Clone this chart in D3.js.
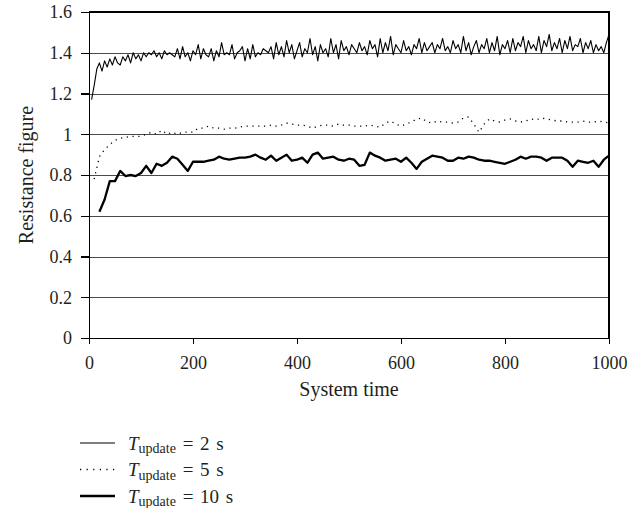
<!DOCTYPE html>
<html>
<head>
    <meta charset="utf-8">
    <script src="https://cdn.jsdelivr.net/npm/d3@7/dist/d3.min.js"></script>
    <style>
        body {
            margin: 0;
            background: #fff;
        }

        svg text {
            font-family: "Liberation Serif", "Times New Roman", serif;
            fill: #231f20;
        }

        .axis path,
        .axis line {
            stroke: #000;
            stroke-width: 1.2;
            shape-rendering: crispEdges;
        }

        .grid line {
            stroke: #4a4a4a;
            stroke-width: 1;
        }

        .series {
            fill: none;
            stroke: #000;
            stroke-linejoin: round;
        }
    </style>
</head>
<body>
<div id="chart"></div>
<script type="text/javascript">
    // T_update = 2 s, every 5 time units from 5 to 1000
    var t2Values = [
        1.17, 1.24, 1.32, 1.35, 1.31, 1.36, 1.33, 1.37, 1.34, 1.38,
        1.35, 1.34, 1.38, 1.36, 1.39, 1.35, 1.40, 1.37, 1.39, 1.36,
        1.40, 1.38, 1.40, 1.39, 1.41, 1.38, 1.40, 1.37, 1.41, 1.39,
        1.40, 1.39, 1.38, 1.42, 1.37, 1.43, 1.38, 1.40, 1.36, 1.41,
        1.39, 1.44, 1.37, 1.42, 1.39, 1.38, 1.42, 1.36, 1.41, 1.38,
        1.45, 1.39, 1.40, 1.39, 1.44, 1.37, 1.40, 1.41, 1.43, 1.36,
        1.42, 1.37, 1.44, 1.38, 1.40, 1.39, 1.42, 1.41, 1.40, 1.43,
        1.37, 1.45, 1.39, 1.43, 1.38, 1.46, 1.40, 1.44, 1.37, 1.41,
        1.45, 1.38, 1.42, 1.40, 1.47, 1.39, 1.43, 1.36, 1.44, 1.40,
        1.42, 1.38, 1.47, 1.40, 1.44, 1.37, 1.46, 1.41, 1.43, 1.39,
        1.44, 1.42, 1.40, 1.45, 1.41, 1.43, 1.39, 1.46, 1.42, 1.44,
        1.38, 1.47, 1.40, 1.45, 1.41, 1.48, 1.39, 1.44, 1.42, 1.40,
        1.46, 1.41, 1.43, 1.39, 1.44, 1.42, 1.47, 1.40, 1.45, 1.41,
        1.43, 1.45, 1.40, 1.44, 1.42, 1.47, 1.41, 1.43, 1.40, 1.46,
        1.42, 1.44, 1.40, 1.48, 1.41, 1.45, 1.39, 1.43, 1.46, 1.40,
        1.44, 1.42, 1.47, 1.40, 1.45, 1.41, 1.48, 1.39, 1.44, 1.42,
        1.46, 1.40, 1.47, 1.41, 1.45, 1.43, 1.48, 1.40, 1.46, 1.42,
        1.44, 1.41, 1.48, 1.40, 1.46, 1.43, 1.49, 1.41, 1.45, 1.42,
        1.47, 1.40, 1.46, 1.42, 1.48, 1.41, 1.44, 1.43, 1.47, 1.40,
        1.45, 1.42, 1.46, 1.40, 1.44, 1.41, 1.43, 1.40, 1.45, 1.49
    ];
    var t2Times = d3.range(5, 1001, 5);

    // T_update = 5 s, every 10 time units from 10 to 1000
    var t5Values = [
        0.78, 0.89, 0.925, 0.95, 0.97, 0.98, 0.985, 0.99, 0.99, 0.99,
        1.00, 1.01, 1.00, 1.02, 1.00, 1.01, 1.00, 1.01, 1.01, 1.01,
        1.03, 1.03, 1.04, 1.03, 1.03, 1.025, 1.03, 1.03, 1.035, 1.04,
        1.04, 1.04, 1.04, 1.04, 1.045, 1.04, 1.045, 1.055, 1.05, 1.045,
        1.045, 1.04, 1.03, 1.04, 1.045, 1.045, 1.04, 1.05, 1.045, 1.045,
        1.04, 1.04, 1.04, 1.045, 1.04, 1.035, 1.055, 1.065, 1.05, 1.04,
        1.05, 1.06, 1.075, 1.08, 1.06, 1.055, 1.065, 1.06, 1.06, 1.055,
        1.06, 1.08, 1.085, 1.05, 1.01, 1.05, 1.075, 1.065, 1.06, 1.07,
        1.075, 1.065, 1.06, 1.065, 1.075, 1.07, 1.08, 1.075, 1.07, 1.065,
        1.065, 1.06, 1.06, 1.06, 1.065, 1.06, 1.06, 1.065, 1.06, 1.055
    ];
    var t5Times = d3.range(10, 1001, 10);

    // T_update = 10 s, every 10 time units from 20 to 1000
    var t10Values = [
        0.62, 0.68, 0.77, 0.77, 0.82, 0.795, 0.80, 0.795, 0.81, 0.845,
        0.81, 0.855, 0.845, 0.86, 0.89, 0.88, 0.85, 0.82, 0.865, 0.865,
        0.865, 0.87, 0.875, 0.89, 0.88, 0.875, 0.88, 0.885, 0.885, 0.89,
        0.90, 0.885, 0.875, 0.895, 0.87, 0.885, 0.90, 0.87, 0.875, 0.885,
        0.86, 0.90, 0.91, 0.88, 0.885, 0.89, 0.875, 0.87, 0.88, 0.875,
        0.845, 0.85, 0.91, 0.895, 0.885, 0.87, 0.875, 0.88, 0.865, 0.885,
        0.86, 0.83, 0.865, 0.88, 0.895, 0.89, 0.885, 0.87, 0.87, 0.885,
        0.88, 0.89, 0.885, 0.875, 0.87, 0.87, 0.865, 0.86, 0.855, 0.865,
        0.875, 0.89, 0.88, 0.89, 0.89, 0.885, 0.87, 0.885, 0.885, 0.885,
        0.87, 0.84, 0.87, 0.865, 0.86, 0.87, 0.84, 0.875, 0.895
    ];
    var t10Times = d3.range(20, 1001, 10);

    var xTicks = [0, 200, 400, 600, 800, 1000];
    var yTicks = [0, 0.2, 0.4, 0.6, 0.8, 1, 1.2, 1.4, 1.6];
    var legendValues = ["2", "5", "10"];

    var width = 644, height = 508;
    var plot = {left: 89, right: 609, top: 12, bottom: 338};
    var serif = "'Liberation Serif', 'Times New Roman', serif";

    var svg = d3.select("#chart").append("svg")
        .attr("width", width)
        .attr("height", height);

    var xScale = d3.scaleLinear().domain([0, 1000]).range([plot.left, plot.right]);
    var yScale = d3.scaleLinear().domain([0, 1.6]).range([plot.bottom, plot.top]);

    // horizontal grid lines, snapped to the pixel grid so they all look alike
    svg.append("g")
        .attr("class", "grid")
        .selectAll("line")
        .data(yTicks.filter(function (d) {
            return d > 0 && d < 1.6;
        }))
        .enter()
        .append("line")
        .attr("x1", plot.left)
        .attr("x2", plot.right)
        .attr("y1", function (d) {
            return Math.round(yScale(d)) + 0.5;
        })
        .attr("y2", function (d) {
            return Math.round(yScale(d)) + 0.5;
        });

    // top and right frame
    svg.append("path")
        .attr("d", "M" + plot.left + "," + yScale(1.6) + "H" + plot.right + "V" + plot.bottom)
        .attr("fill", "none")
        .attr("stroke", "#000")
        .attr("stroke-width", 1.2)
        .attr("shape-rendering", "crispEdges");

    var series = [
        {times: t2Times, values: t2Values, width: 1.1, dash: null, key: "1,0"},
        {times: t5Times, values: t5Values, width: 1.3, dash: "1.2,4.6", key: "1.2,5.4"},
        {times: t10Times, values: t10Values, width: 2.3, dash: null, key: "1,0"}
    ];

    var line = d3.line()
        .x(function (d) {
            return xScale(d[0]);
        })
        .y(function (d) {
            return yScale(d[1]);
        });

    svg.selectAll("path.series")
        .data(series)
        .enter()
        .append("path")
        .attr("class", "series")
        .attr("stroke-width", function (d) {
            return d.width;
        })
        .attr("stroke-dasharray", function (d) {
            return d.dash;
        })
        .attr("d", function (d) {
            return line(d3.zip(d.times, d.values));
        });

    var yAxis = d3.axisLeft(yScale)
        .tickValues(yTicks)
        .tickSize(8)
        .tickSizeOuter(0)
        .tickPadding(9)
        .tickFormat(function (d) {
            return String(+d.toFixed(1));
        });

    var xAxis = d3.axisBottom(xScale)
        .tickValues(xTicks)
        .tickSize(6)
        .tickSizeOuter(0)
        .tickPadding(12)
        .tickFormat(d3.format("d"));

    svg.append("g")
        .attr("class", "y axis")
        .attr("transform", "translate(" + plot.left + ",0)")
        .call(yAxis);

    svg.append("g")
        .attr("class", "x axis")
        .attr("transform", "translate(0," + plot.bottom + ")")
        .call(xAxis);

    svg.selectAll(".axis text")
        .style("font-family", serif)
        .style("font-size", "18px")
        .style("fill", "#231f20");

    // axis titles
    svg.append("text")
        .attr("x", (plot.left + plot.right) / 2)
        .attr("y", 396)
        .attr("text-anchor", "middle")
        .style("font-family", serif)
        .style("font-size", "20px")
        .text("System time");

    svg.append("text")
        .attr("transform", "translate(33," + (plot.top + plot.bottom) / 2 + ") rotate(-90)")
        .attr("text-anchor", "middle")
        .style("font-family", serif)
        .style("font-size", "20px")
        .text("Resistance figure");

    // legend
    var legend = svg.append("g")
        .attr("transform", "translate(80,443)");

    var rows = legend.selectAll("g")
        .data(series)
        .enter()
        .append("g")
        .attr("transform", function (d, i) {
            return "translate(0," + (i * 26.5) + ")";
        });

    rows.append("line")
        .attr("x1", 0)
        .attr("x2", 35)
        .attr("stroke", "#000")
        .attr("stroke-width", function (d) {
            return d.width;
        })
        .attr("stroke-dasharray", function (d) {
            return d.key;
        });

    var label = rows.append("text")
        .attr("x", 48)
        .attr("y", 6.5)
        .style("font-family", serif)
        .style("font-size", "19px")
        .style("word-spacing", "2px");

    label.append("tspan")
        .style("font-style", "italic")
        .text("T");

    label.append("tspan")
        .attr("dy", 3.5)
        .style("font-size", "14px")
        .text("update");

    label.append("tspan")
        .attr("dy", -3.5)
        .text(function (d, i) {
            return " = " + legendValues[i] + " s";
        });
</script>
</body>
</html>
